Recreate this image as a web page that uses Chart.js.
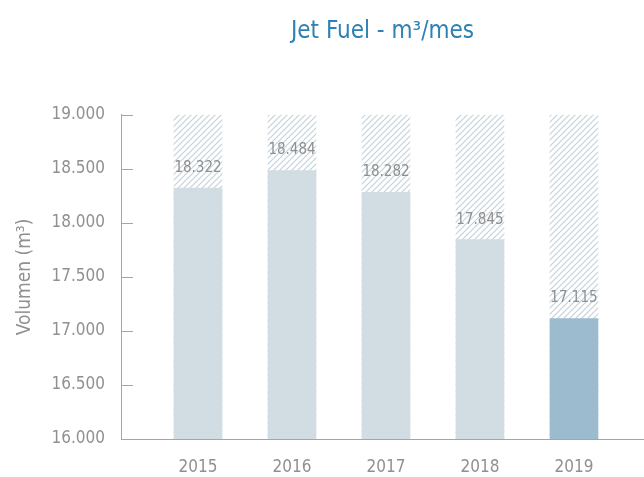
<!DOCTYPE html>
<html>
<head>
<meta charset="utf-8">
<script src="https://cdn.jsdelivr.net/npm/chart.js@4.4.0/dist/chart.umd.min.js"></script>
<style>
  html, body { margin: 0; padding: 0; background: #fff; }
  #wrap { width: 644px; height: 477px; }
</style>
</head>
<body>
<div id="wrap"><canvas id="chart" width="644" height="477"></canvas></div>
<script>
const years = [2015, 2016, 2017, 2018, 2019];
const volumes = [18322, 18484, 18282, 17845, 17115];
const ceiling = [19000, 19000, 19000, 19000, 19000];
const yTicks = [16000, 16500, 17000, 17500, 18000, 18500, 19000];

const FONT = '"Liberation Sans Narrow", "DejaVu Sans Condensed", Roboto, sans-serif';
const GREY = '#909090';

function fmt(v) {
  return v.toString().replace(/\B(?=(\d{3})+(?!\d))/g, '.');
}

// diagonal hatch for the background columns
function hatch() {
  const c = document.createElement('canvas');
  c.width = 6; c.height = 6;
  const g = c.getContext('2d');
  g.strokeStyle = '#bfd1dd';
  g.lineWidth = 1.1;
  g.beginPath();
  g.moveTo(0, 6); g.lineTo(6, 0);
  g.moveTo(-1, 1); g.lineTo(1, -1);
  g.moveTo(5, 7); g.lineTo(7, 5);
  g.stroke();
  return g.createPattern(c, 'repeat');
}

const barData = years.map((y, i) => ({ x: y, y: volumes[i] }));
const bgData = years.map((y, i) => ({ x: y, y: ceiling[i] }));

const extras = {
  id: 'extras',
  afterDatasetsDraw(chart) {
    const ctx = chart.ctx;
    const ys = chart.scales.y;
    const left = chart.chartArea.left;
    ctx.save();
    // inward tick marks
    ctx.strokeStyle = '#a5a5a5';
    ctx.lineWidth = 1;
    yTicks.forEach(t => {
      const py = Math.round(ys.getPixelForValue(t)) + 0.5;
      ctx.beginPath();
      ctx.moveTo(left, py);
      ctx.lineTo(left + 12, py);
      ctx.stroke();
    });
    // value labels
    ctx.fillStyle = GREY;
    ctx.font = '300 15px ' + FONT;
    ctx.textAlign = 'center';
    ctx.textBaseline = 'middle';
    chart.getDatasetMeta(1).data.forEach((bar, i) => {
      ctx.fillText(fmt(volumes[i]), bar.x, bar.y - 20);
    });
    ctx.restore();
  }
};

new Chart(document.getElementById('chart'), {
  type: 'bar',
  data: {
    datasets: [
      {
        label: 'max',
        data: bgData,
        backgroundColor: hatch(),
        barThickness: 48,
        grouped: false,
        order: 2
      },
      {
        label: 'Jet Fuel',
        data: barData,
        backgroundColor: ['#d2dde3', '#d2dde3', '#d2dde3', '#d2dde3', '#9dbbcf'],
        barThickness: 48,
        grouped: false,
        order: 1
      }
    ]
  },
  options: {
    responsive: false,
    animation: false,
    layout: { padding: { top: 0, right: 0, bottom: 0, left: 0 } },
    plugins: {
      legend: { display: false },
      tooltip: { enabled: false },
      title: {
        display: true,
        fullSize: false,
        text: 'Jet Fuel - m³/mes',
        color: '#2f80b3',
        font: { family: FONT, size: 24, weight: '300' },
        padding: { top: 17, bottom: 69 }
      }
    },
    scales: {
      x: {
        type: 'linear',
        offset: false,
        min: 2014.181,
        max: 2019.745,
        grid: { display: false, drawTicks: false },
        border: { color: '#a5a5a5', width: 1 },
        ticks: {
          stepSize: 1,
          includeBounds: false,
          color: GREY,
          padding: 18,
          font: { family: FONT, size: 17, weight: '300' },
          callback: v => String(v)
        },
        afterFit: s => { s.height = 38; }
      },
      y: {
        min: 16000,
        max: 19000,
        grid: { display: false, drawTicks: false },
        border: { color: '#a5a5a5', width: 1 },
        ticks: {
          stepSize: 500,
          color: GREY,
          padding: 16,
          font: { family: FONT, size: 17, weight: '300' },
          callback: v => fmt(v)
        },
        title: {
          display: true,
          text: 'Volumen (m³)',
          color: GREY,
          font: { family: FONT, size: 19, weight: '300' },
          padding: { top: 14, bottom: 0 }
        },
        afterFit: s => { s.width = 121; }
      }
    }
  },
  plugins: [extras]
});
</script>
</body>
</html>
